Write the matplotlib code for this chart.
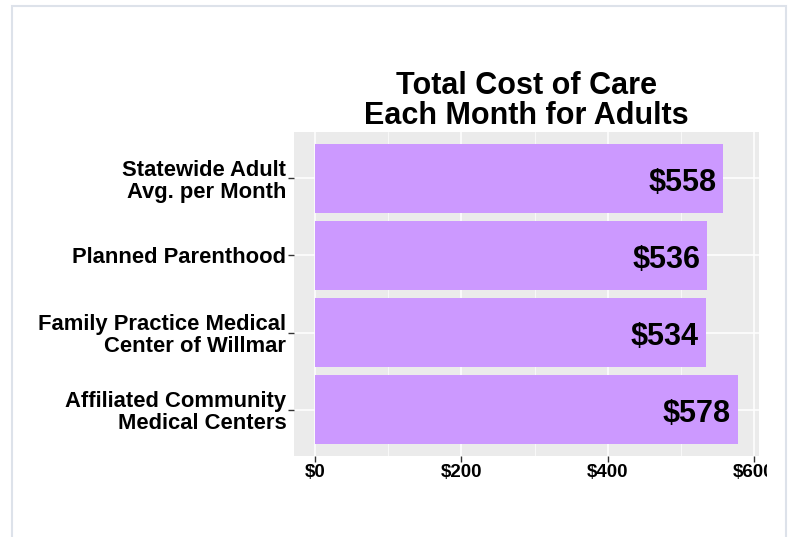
import matplotlib
matplotlib.use("Agg")
import matplotlib.pyplot as plt
from matplotlib.patches import Rectangle
from matplotlib.ticker import MultipleLocator
from matplotlib.transforms import Bbox

# bottom to top, as in the chart
clinics = ["Affiliated Community\nMedical Centers",
           "Family Practice Medical\nCenter of Willmar",
           "Planned Parenthood",
           "Statewide Adult\nAvg. per Month"]
costs = [578, 534, 536, 558]
x_ticks = [0, 200, 400, 600]
x_tick_labels = ["$0", "$200", "$400", "$600"]

plt.rcParams['font.family'] = ['Liberation Sans', 'DejaVu Sans']

W, H = 791, 537
fig = plt.figure(figsize=(W / 100, H / 100), dpi=100)
ax = fig.add_axes([294 / W, 1 - 456 / H, (759 - 294) / W, (456 - 132) / H])

ax.set_facecolor('#EBEBEB')
pos = list(range(len(clinics)))
ax.barh(pos, costs, height=0.9, color='#CC99FF', zorder=2)

for y, v in zip(pos, costs):
    ax.annotate(f"${v}", (v, y), xytext=(-5, -9), textcoords='offset points',
                ha='right', va='baseline', fontsize=22, fontweight='bold',
                color='black', zorder=3)

ax.set_xlim(-29, 607)
ax.set_ylim(-0.6, len(clinics) - 0.4)
ax.set_xticks(x_ticks)
ax.set_xticklabels(x_tick_labels, fontsize=13.5, fontweight='bold')
ax.xaxis.set_minor_locator(MultipleLocator(100))
ax.set_yticks(pos)
ax.set_yticklabels(clinics, fontsize=15.8, fontweight='bold', linespacing=1.08)

ax.grid(True, which='major', color='white', linewidth=1.1, zorder=0)
ax.grid(True, which='minor', axis='x', color='white', linewidth=0.5, zorder=0)
ax.set_axisbelow(True)
ax.tick_params(axis='both', which='major', length=4, width=1, color='#333333', pad=3)
ax.tick_params(axis='y', which='major', pad=1.5)
ax.tick_params(axis='x', which='major', pad=2)
ax.tick_params(axis='x', which='minor', length=0)
for s in ax.spines.values():
    s.set_visible(False)

ax.set_title("Total Cost of Care\nEach Month for Adults", fontsize=22,
             fontweight='bold', linespacing=1.0, pad=6)

# original image is cut off just right of the panel
clip = Bbox.from_extents(0, 0, 767, H)
for lab in ax.get_xticklabels():
    lab.set_clip_box(clip)
    lab.set_clip_on(True)

# light frame around the figure
fig.patches.append(Rectangle((12 / W, -0.05), (786 - 12) / W, 1.05 - 6 / H,
                             transform=fig.transFigure, fill=False,
                             edgecolor='#DDE2EA', linewidth=1.5))

fig.savefig("out.png", dpi=100)
